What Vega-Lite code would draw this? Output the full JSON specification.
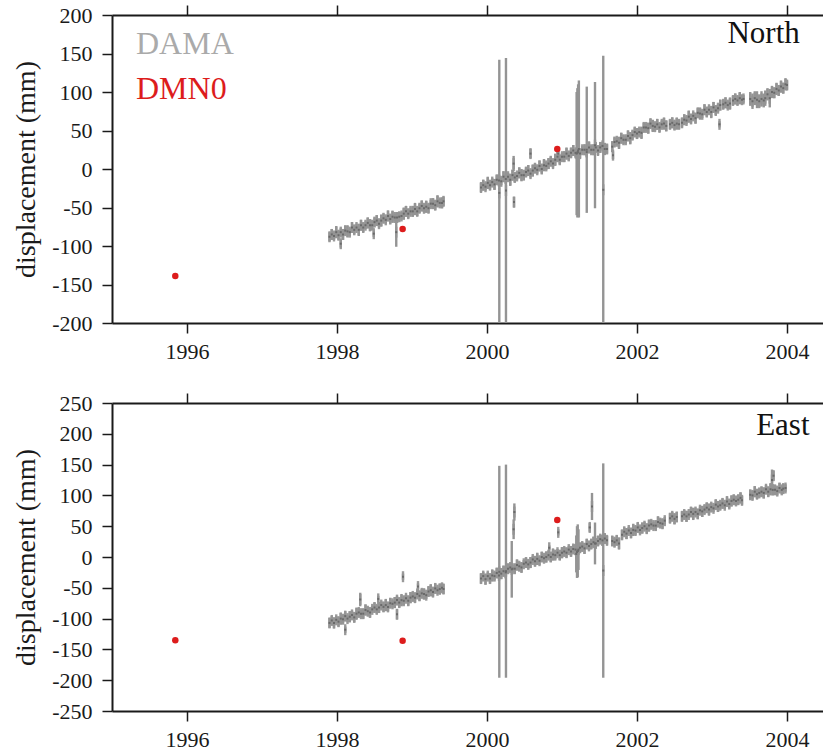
{
"$schema": "https://vega.github.io/schema/vega-lite/v6.json",
"background": "white",
"padding": {"left": 12, "top": 4, "right": 0, "bottom": 5},
"spacing": 30,
"config": {
  "view": {"stroke": null},
  "font": "Liberation Serif",
  "axis": {"labelFont": "Liberation Serif", "titleFont": "Liberation Serif", "labelFontSize": 22, "titleFontSize": 28, "titleFontWeight": "normal", "labelColor": "#1a1a1a", "titleColor": "#1a1a1a", "domainColor": "#1a1a1a", "tickColor": "#1a1a1a", "domainWidth": 2, "tickWidth": 1.5, "tickSize": 10, "grid": false}
},
"datasets": {
"dn": [
{"t":1997.90,"y":-88,"e":6},{"t":1997.93,"y":-85,"e":7},{"t":1997.96,"y":-87,"e":5},{"t":1997.99,"y":-82,"e":8},{"t":1998.02,"y":-86,"e":6},{"t":1998.05,"y":-82,"e":5},{"t":1998.08,"y":-85,"e":7},{"t":1998.11,"y":-80,"e":6},{"t":1998.14,"y":-81,"e":8},{"t":1998.17,"y":-82,"e":5},{"t":1998.20,"y":-76,"e":7},{"t":1998.23,"y":-79,"e":6},{"t":1998.26,"y":-76,"e":5},{"t":1998.29,"y":-79,"e":8},{"t":1998.32,"y":-73,"e":7},{"t":1998.35,"y":-76,"e":6},{"t":1998.38,"y":-73,"e":5},{"t":1998.41,"y":-70,"e":7},{"t":1998.44,"y":-73,"e":8},{"t":1998.47,"y":-73,"e":6},{"t":1998.50,"y":-69,"e":6},{"t":1998.53,"y":-67,"e":7},{"t":1998.56,"y":-71,"e":5},{"t":1998.59,"y":-67,"e":8},{"t":1998.62,"y":-64,"e":6},{"t":1998.65,"y":-66,"e":5},{"t":1998.68,"y":-61,"e":7},{"t":1998.71,"y":-65,"e":6},{"t":1998.74,"y":-62,"e":8},{"t":1998.77,"y":-63,"e":5},{"t":1998.80,"y":-63,"e":7},{"t":1998.83,"y":-62,"e":6},{"t":1998.86,"y":-61,"e":5},{"t":1998.89,"y":-58,"e":8},{"t":1998.92,"y":-55,"e":7},{"t":1998.95,"y":-58,"e":6},{"t":1998.98,"y":-55,"e":5},{"t":1999.01,"y":-55,"e":7},{"t":1999.04,"y":-52,"e":8},{"t":1999.07,"y":-55,"e":6},{"t":1999.10,"y":-51,"e":6},{"t":1999.13,"y":-48,"e":7},{"t":1999.16,"y":-51,"e":5},{"t":1999.19,"y":-49,"e":8},{"t":1999.22,"y":-51,"e":6},{"t":1999.25,"y":-45,"e":5},{"t":1999.28,"y":-45,"e":7},{"t":1999.31,"y":-47,"e":6},{"t":1999.34,"y":-42,"e":8},{"t":1999.37,"y":-44,"e":5},{"t":1999.40,"y":-44,"e":7},{"t":1999.42,"y":-42,"e":6},
{"t":1999.92,"y":-24,"e":6},{"t":1999.95,"y":-21,"e":7},{"t":1999.98,"y":-23,"e":5},{"t":2000.01,"y":-18,"e":8},{"t":2000.04,"y":-21,"e":6},{"t":2000.07,"y":-17,"e":5},{"t":2000.10,"y":-20,"e":7},{"t":2000.13,"y":-14,"e":6},{"t":2000.16,"y":-15,"e":8},{"t":2000.19,"y":-16,"e":5},{"t":2000.22,"y":-10,"e":7},{"t":2000.25,"y":-13,"e":6},{"t":2000.28,"y":-10,"e":5},{"t":2000.31,"y":-14,"e":8},{"t":2000.34,"y":-8,"e":7},{"t":2000.37,"y":-11,"e":6},{"t":2000.40,"y":-9,"e":5},{"t":2000.43,"y":-5,"e":7},{"t":2000.46,"y":-8,"e":8},{"t":2000.49,"y":-8,"e":6},{"t":2000.52,"y":-4,"e":6},{"t":2000.55,"y":-2,"e":7},{"t":2000.58,"y":-6,"e":5},{"t":2000.61,"y":-2,"e":8},{"t":2000.64,"y":1,"e":6},{"t":2000.67,"y":-1,"e":5},{"t":2000.70,"y":4,"e":7},{"t":2000.73,"y":0,"e":6},{"t":2000.76,"y":5,"e":8},{"t":2000.79,"y":4,"e":5},{"t":2000.82,"y":7,"e":7},{"t":2000.85,"y":10,"e":6},{"t":2000.88,"y":7,"e":5},{"t":2000.91,"y":12,"e":8},{"t":2000.94,"y":16,"e":7},{"t":2000.97,"y":12,"e":6},{"t":2001.00,"y":16,"e":5},{"t":2001.03,"y":16,"e":7},{"t":2001.06,"y":20,"e":8},{"t":2001.09,"y":17,"e":6},{"t":2001.12,"y":21,"e":6},{"t":2001.15,"y":24,"e":7},{"t":2001.18,"y":21,"e":5},{"t":2001.21,"y":22,"e":8},{"t":2001.24,"y":20,"e":6},{"t":2001.27,"y":25,"e":5},{"t":2001.30,"y":25,"e":7},{"t":2001.33,"y":22,"e":6},{"t":2001.36,"y":28,"e":8},{"t":2001.39,"y":25,"e":5},{"t":2001.42,"y":25,"e":7},{"t":2001.45,"y":28,"e":6},{"t":2001.48,"y":24,"e":6},{"t":2001.51,"y":28,"e":7},{"t":2001.54,"y":30,"e":5},{"t":2001.57,"y":26,"e":8},{"t":2001.60,"y":26,"e":6},
{"t":2001.67,"y":29,"e":7},{"t":2001.70,"y":35,"e":6},{"t":2001.73,"y":36,"e":5},{"t":2001.76,"y":34,"e":8},{"t":2001.79,"y":40,"e":7},{"t":2001.82,"y":38,"e":6},{"t":2001.85,"y":38,"e":5},{"t":2001.88,"y":43,"e":7},{"t":2001.91,"y":40,"e":8},{"t":2001.94,"y":44,"e":6},{"t":2001.97,"y":48,"e":6},{"t":2002.00,"y":46,"e":7},{"t":2002.03,"y":48,"e":5},{"t":2002.06,"y":47,"e":8},{"t":2002.09,"y":54,"e":6},{"t":2002.12,"y":54,"e":5},{"t":2002.15,"y":53,"e":7},{"t":2002.18,"y":59,"e":6},{"t":2002.21,"y":56,"e":8},{"t":2002.24,"y":55,"e":5},{"t":2002.27,"y":58,"e":7},{"t":2002.30,"y":54,"e":6},{"t":2002.33,"y":58,"e":5},{"t":2002.36,"y":59,"e":8},{"t":2002.39,"y":56,"e":7},
{"t":2002.44,"y":58,"e":6},{"t":2002.47,"y":60,"e":7},{"t":2002.50,"y":57,"e":6},{"t":2002.53,"y":59,"e":8},{"t":2002.56,"y":58,"e":6},
{"t":2002.60,"y":60,"e":6},{"t":2002.63,"y":64,"e":7},{"t":2002.66,"y":63,"e":5},{"t":2002.69,"y":68,"e":8},{"t":2002.72,"y":65,"e":6},{"t":2002.75,"y":69,"e":5},{"t":2002.78,"y":66,"e":7},{"t":2002.81,"y":73,"e":6},{"t":2002.84,"y":72,"e":8},{"t":2002.87,"y":71,"e":5},{"t":2002.90,"y":77,"e":7},{"t":2002.93,"y":74,"e":6},{"t":2002.96,"y":77,"e":5},{"t":2002.99,"y":74,"e":8},{"t":2003.02,"y":80,"e":7},{"t":2003.05,"y":76,"e":6},{"t":2003.08,"y":79,"e":5},{"t":2003.11,"y":83,"e":7},
{"t":2003.15,"y":84,"e":6},{"t":2003.18,"y":86,"e":7},{"t":2003.21,"y":83,"e":5},{"t":2003.24,"y":85,"e":8},
{"t":2003.28,"y":89,"e":6},{"t":2003.31,"y":91,"e":7},{"t":2003.34,"y":89,"e":6},{"t":2003.37,"y":92,"e":8},{"t":2003.40,"y":90,"e":6},{"t":2003.42,"y":91,"e":5},
{"t":2003.51,"y":91,"e":9},{"t":2003.54,"y":88,"e":10},{"t":2003.57,"y":92,"e":9},{"t":2003.60,"y":90,"e":11},{"t":2003.63,"y":88,"e":9},{"t":2003.66,"y":91,"e":10},{"t":2003.69,"y":89,"e":9},{"t":2003.71,"y":92,"e":10},
{"t":2003.74,"y":97,"e":8},{"t":2003.77,"y":92,"e":12},{"t":2003.80,"y":100,"e":8},{"t":2003.83,"y":99,"e":7},{"t":2003.86,"y":104,"e":8},{"t":2003.89,"y":102,"e":7},{"t":2003.92,"y":107,"e":8},{"t":2003.95,"y":105,"e":7},{"t":2003.98,"y":110,"e":8},{"t":2004.00,"y":109,"e":6},
{"t":2000.164,"y":-31,"e":173},{"t":2000.253,"y":-28,"e":172},{"t":2001.195,"y":20,"e":80},{"t":2001.205,"y":21,"e":84},{"t":2001.215,"y":24,"e":86},{"t":2001.225,"y":26,"e":89},{"t":2001.33,"y":25,"e":82},{"t":2001.44,"y":31,"e":82},{"t":2001.55,"y":-27,"e":174},
{"t":1998.05,"y":-97,"e":5},{"t":1998.49,"y":-84,"e":4},{"t":1998.79,"y":-82,"e":19},{"t":2000.36,"y":-43,"e":7},{"t":2000.355,"y":7,"e":10},{"t":2000.58,"y":20,"e":6},{"t":2000.95,"y":20,"e":5},{"t":2003.10,"y":58,"e":4},{"t":2001.68,"y":18,"e":5}
],
"de": [
{"t":1997.90,"y":-107,"e":8},{"t":1997.93,"y":-103,"e":7},{"t":1997.96,"y":-107,"e":9},{"t":1997.99,"y":-102,"e":6},{"t":1998.02,"y":-105,"e":8},{"t":1998.05,"y":-100,"e":10},{"t":1998.08,"y":-101,"e":7},{"t":1998.11,"y":-96,"e":8},{"t":1998.14,"y":-100,"e":6},{"t":1998.17,"y":-97,"e":9},{"t":1998.20,"y":-94,"e":7},{"t":1998.23,"y":-98,"e":8},{"t":1998.26,"y":-92,"e":10},{"t":1998.29,"y":-90,"e":7},{"t":1998.32,"y":-92,"e":6},{"t":1998.35,"y":-92,"e":8},{"t":1998.38,"y":-86,"e":9},{"t":1998.41,"y":-88,"e":7},{"t":1998.44,"y":-90,"e":8},{"t":1998.47,"y":-85,"e":6},{"t":1998.50,"y":-82,"e":8},{"t":1998.53,"y":-85,"e":7},{"t":1998.56,"y":-82,"e":9},{"t":1998.59,"y":-78,"e":6},{"t":1998.62,"y":-81,"e":8},{"t":1998.65,"y":-78,"e":10},{"t":1998.68,"y":-81,"e":7},{"t":1998.71,"y":-75,"e":8},{"t":1998.74,"y":-76,"e":6},{"t":1998.77,"y":-74,"e":9},{"t":1998.80,"y":-70,"e":7},{"t":1998.83,"y":-74,"e":8},{"t":1998.86,"y":-70,"e":10},{"t":1998.89,"y":-71,"e":7},{"t":1998.92,"y":-67,"e":6},{"t":1998.95,"y":-71,"e":8},{"t":1998.98,"y":-66,"e":9},{"t":1999.01,"y":-64,"e":7},{"t":1999.04,"y":-66,"e":8},{"t":1999.07,"y":-60,"e":6},{"t":1999.10,"y":-63,"e":8},{"t":1999.13,"y":-59,"e":7},{"t":1999.16,"y":-60,"e":9},{"t":1999.19,"y":-62,"e":6},{"t":1999.22,"y":-56,"e":8},{"t":1999.25,"y":-54,"e":10},{"t":1999.28,"y":-57,"e":7},{"t":1999.31,"y":-51,"e":8},{"t":1999.34,"y":-54,"e":6},{"t":1999.37,"y":-52,"e":9},{"t":1999.40,"y":-50,"e":7},{"t":1999.42,"y":-52,"e":8},
{"t":1999.92,"y":-35,"e":8},{"t":1999.95,"y":-31,"e":7},{"t":1999.98,"y":-36,"e":9},{"t":2000.01,"y":-31,"e":6},{"t":2000.04,"y":-35,"e":8},{"t":2000.07,"y":-30,"e":10},{"t":2000.10,"y":-31,"e":7},{"t":2000.13,"y":-26,"e":8},{"t":2000.16,"y":-30,"e":6},{"t":2000.19,"y":-27,"e":9},{"t":2000.22,"y":-23,"e":9},{"t":2000.25,"y":-25,"e":10},{"t":2000.28,"y":-19,"e":8},{"t":2000.31,"y":-17,"e":7},{"t":2000.34,"y":-19,"e":6},{"t":2000.37,"y":-19,"e":8},{"t":2000.40,"y":-13,"e":9},{"t":2000.43,"y":-15,"e":7},{"t":2000.46,"y":-17,"e":8},{"t":2000.49,"y":-11,"e":6},{"t":2000.52,"y":-9,"e":8},{"t":2000.55,"y":-12,"e":7},{"t":2000.58,"y":-9,"e":9},{"t":2000.61,"y":-4,"e":6},{"t":2000.64,"y":-7,"e":8},{"t":2000.67,"y":-3,"e":10},{"t":2000.70,"y":-6,"e":7},{"t":2000.73,"y":0,"e":8},{"t":2000.76,"y":-2,"e":6},{"t":2000.79,"y":0,"e":9},{"t":2000.82,"y":3,"e":7},{"t":2000.85,"y":0,"e":8},{"t":2000.88,"y":4,"e":10},{"t":2000.91,"y":3,"e":7},{"t":2000.94,"y":7,"e":6},{"t":2000.97,"y":3,"e":8},{"t":2001.00,"y":7,"e":9},{"t":2001.03,"y":9,"e":7},{"t":2001.06,"y":7,"e":8},{"t":2001.09,"y":12,"e":6},{"t":2001.12,"y":9,"e":8},{"t":2001.15,"y":13,"e":7},{"t":2001.18,"y":12,"e":9},{"t":2001.21,"y":10,"e":10},{"t":2001.24,"y":15,"e":8},{"t":2001.27,"y":17,"e":7},{"t":2001.30,"y":14,"e":9},{"t":2001.33,"y":21,"e":8},{"t":2001.36,"y":18,"e":7},{"t":2001.39,"y":21,"e":8},{"t":2001.42,"y":24,"e":9},{"t":2001.45,"y":22,"e":7},{"t":2001.48,"y":26,"e":8},{"t":2001.51,"y":29,"e":7},{"t":2001.54,"y":27,"e":9},{"t":2001.57,"y":30,"e":8},{"t":2001.60,"y":27,"e":7},
{"t":2001.67,"y":26,"e":8},{"t":2001.70,"y":24,"e":7},{"t":2001.73,"y":27,"e":8},{"t":2001.76,"y":22,"e":10},
{"t":2001.80,"y":36,"e":8},{"t":2001.83,"y":41,"e":7},{"t":2001.86,"y":38,"e":9},{"t":2001.89,"y":43,"e":6},{"t":2001.92,"y":39,"e":8},{"t":2001.95,"y":44,"e":10},{"t":2001.98,"y":43,"e":7},{"t":2002.01,"y":48,"e":8},{"t":2002.04,"y":44,"e":6},{"t":2002.07,"y":47,"e":9},{"t":2002.10,"y":50,"e":7},{"t":2002.13,"y":46,"e":8},{"t":2002.16,"y":51,"e":10},{"t":2002.19,"y":53,"e":7},{"t":2002.22,"y":51,"e":6},{"t":2002.25,"y":51,"e":8},{"t":2002.28,"y":57,"e":9},{"t":2002.31,"y":55,"e":7},{"t":2002.34,"y":54,"e":8},{"t":2002.37,"y":59,"e":6},
{"t":2002.44,"y":63,"e":8},{"t":2002.47,"y":66,"e":7},{"t":2002.50,"y":62,"e":9},{"t":2002.53,"y":65,"e":8},
{"t":2002.60,"y":66,"e":8},{"t":2002.63,"y":69,"e":7},{"t":2002.66,"y":66,"e":9},{"t":2002.69,"y":69,"e":6},{"t":2002.72,"y":73,"e":8},{"t":2002.75,"y":70,"e":10},{"t":2002.78,"y":73,"e":7},{"t":2002.81,"y":70,"e":8},{"t":2002.84,"y":76,"e":6},{"t":2002.87,"y":74,"e":9},{"t":2002.90,"y":77,"e":7},{"t":2002.93,"y":80,"e":8},{"t":2002.96,"y":77,"e":10},{"t":2002.99,"y":81,"e":7},{"t":2003.02,"y":79,"e":6},{"t":2003.05,"y":85,"e":8},{"t":2003.08,"y":82,"e":9},{"t":2003.11,"y":84,"e":7},{"t":2003.14,"y":87,"e":8},{"t":2003.17,"y":84,"e":6},{"t":2003.20,"y":90,"e":8},{"t":2003.23,"y":86,"e":7},{"t":2003.26,"y":91,"e":9},{"t":2003.29,"y":93,"e":8},{"t":2003.32,"y":91,"e":7},{"t":2003.35,"y":93,"e":8},{"t":2003.38,"y":96,"e":9},{"t":2003.40,"y":92,"e":7},
{"t":2003.51,"y":101,"e":8},{"t":2003.54,"y":100,"e":7},{"t":2003.57,"y":106,"e":9},{"t":2003.60,"y":102,"e":8},{"t":2003.63,"y":104,"e":7},{"t":2003.66,"y":106,"e":8},{"t":2003.69,"y":104,"e":9},{"t":2003.72,"y":110,"e":7},{"t":2003.75,"y":106,"e":8},{"t":2003.78,"y":110,"e":10},{"t":2003.81,"y":109,"e":9},{"t":2003.84,"y":109,"e":8},{"t":2003.87,"y":107,"e":7},{"t":2003.90,"y":112,"e":8},{"t":2003.93,"y":109,"e":7},{"t":2003.95,"y":111,"e":8},{"t":2003.98,"y":112,"e":6},
{"t":2000.164,"y":-24,"e":172},{"t":2000.253,"y":-23,"e":173},{"t":2001.55,"y":-22,"e":174},{"t":2000.365,"y":73,"e":14},{"t":2000.355,"y":45,"e":16},{"t":2000.33,"y":-20,"e":46},{"t":2001.19,"y":5,"e":30},{"t":2001.20,"y":8,"e":42},{"t":2001.21,"y":10,"e":43},{"t":2001.22,"y":12,"e":33},{"t":2001.40,"y":82,"e":22},{"t":2001.44,"y":22,"e":34},{"t":2001.37,"y":48,"e":7},{"t":2000.95,"y":40,"e":5},{"t":2000.83,"y":15,"e":4},{"t":1998.31,"y":-69,"e":11},{"t":1998.11,"y":-118,"e":5},{"t":1998.55,"y":-68,"e":5},{"t":1998.88,"y":-32,"e":5},{"t":1999.08,"y":-48,"e":5},{"t":1998.80,"y":-93,"e":8},{"t":2003.80,"y":125,"e":17},{"t":2003.82,"y":132,"e":8}
],
"rn": [{"t":1995.844,"y":-139},{"t":1998.875,"y":-78},{"t":2000.937,"y":26}],
"re": [{"t":1995.844,"y":-135},{"t":1998.875,"y":-136},{"t":2000.937,"y":60}],
"one": [{"k":1}]
},
"vconcat": [
{
  "width": 711, "height": 308,
  "resolve": {"axis": {"x": "independent", "y": "independent"}},
  "layer": [
    {"data": {"name": "dn"}, "mark": {"type": "tick", "orient": "vertical", "size": 11, "thickness": 2.4, "color": "#9a9a9a", "opacity": 1},
     "encoding": {
       "x": {"field": "t", "type": "quantitative", "scale": {"domain": [1995, 2004.48], "nice": false, "zero": false}, "axis": null},
       "y": {"field": "y", "type": "quantitative", "scale": {"domain": [-200, 200], "nice": false, "zero": false, "clamp": true}, "axis": null}}},
    {"data": {"name": "dn"}, "mark": {"type": "errorbar", "color": "#949494", "thickness": 2.4},
     "encoding": {
       "x": {"field": "t", "type": "quantitative", "axis": {"orient": "top", "values": [1996, 1998, 2000, 2002, 2004], "labels": false, "title": null}},
       "y": {"field": "y", "type": "quantitative", "axis": null},
       "yError": {"field": "e"}}},
    {"data": {"name": "dn"}, "mark": {"type": "point", "shape": "square", "filled": true, "size": 4, "color": "#6a6a6a", "opacity": 1},
     "encoding": {
       "x": {"field": "t", "type": "quantitative", "axis": {"orient": "bottom", "values": [1996, 1998, 2000, 2002, 2004], "format": "d", "title": null, "labelPadding": 8, "labelFont": "Liberation Serif", "labelFontSize": 22}},
       "y": {"field": "y", "type": "quantitative", "axis": {"orient": "left", "values": [-200, -150, -100, -50, 0, 50, 100, 150, 200], "labelExpr": "'' + datum.value", "title": "displacement (mm)", "labelPadding": 10, "titlePadding": 11, "labelFont": "Liberation Serif", "titleFont": "Liberation Serif", "labelFontSize": 22, "titleFontSize": 28, "titleFontWeight": "normal"}}}},
    {"data": {"name": "rn"}, "mark": {"type": "circle", "size": 42, "color": "#dd1c1c", "opacity": 1},
     "encoding": {
       "x": {"field": "t", "type": "quantitative", "axis": null},
       "y": {"field": "y", "type": "quantitative", "axis": null}}},
    {"data": {"name": "one"}, "mark": {"type": "text", "text": "DAMA", "font": "Liberation Serif", "fontSize": 32, "color": "#aaaaaa", "align": "left", "baseline": "alphabetic"},
     "encoding": {"x": {"datum": 1995.32, "type": "quantitative", "axis": null}, "y": {"datum": 150, "type": "quantitative", "axis": null}}},
    {"data": {"name": "one"}, "mark": {"type": "text", "text": "DMN0", "font": "Liberation Serif", "fontSize": 32, "color": "#dd1c1c", "align": "left", "baseline": "alphabetic"},
     "encoding": {"x": {"datum": 1995.32, "type": "quantitative", "axis": null}, "y": {"datum": 91, "type": "quantitative", "axis": null}}},
    {"data": {"name": "one"}, "mark": {"type": "text", "text": "North", "font": "Liberation Serif", "fontSize": 31, "color": "#111111", "align": "right", "baseline": "alphabetic"},
     "encoding": {"x": {"datum": 2004.17, "type": "quantitative", "axis": null}, "y": {"datum": 163, "type": "quantitative", "axis": null}}}
  ]
},
{
  "width": 711, "height": 308,
  "resolve": {"axis": {"x": "independent", "y": "independent"}},
  "layer": [
    {"data": {"name": "de"}, "mark": {"type": "tick", "orient": "vertical", "size": 11, "thickness": 2.4, "color": "#9a9a9a", "opacity": 1},
     "encoding": {
       "x": {"field": "t", "type": "quantitative", "scale": {"domain": [1995, 2004.48], "nice": false, "zero": false}, "axis": null},
       "y": {"field": "y", "type": "quantitative", "scale": {"domain": [-250, 250], "nice": false, "zero": false, "clamp": true}, "axis": null}}},
    {"data": {"name": "de"}, "mark": {"type": "errorbar", "color": "#949494", "thickness": 2.4},
     "encoding": {
       "x": {"field": "t", "type": "quantitative", "axis": {"orient": "top", "values": [1996, 1998, 2000, 2002, 2004], "labels": false, "title": null}},
       "y": {"field": "y", "type": "quantitative", "axis": null},
       "yError": {"field": "e"}}},
    {"data": {"name": "de"}, "mark": {"type": "point", "shape": "square", "filled": true, "size": 4, "color": "#6a6a6a", "opacity": 1},
     "encoding": {
       "x": {"field": "t", "type": "quantitative", "axis": {"orient": "bottom", "values": [1996, 1998, 2000, 2002, 2004], "format": "d", "title": null, "labelPadding": 8, "labelFont": "Liberation Serif", "labelFontSize": 22}},
       "y": {"field": "y", "type": "quantitative", "axis": {"orient": "left", "values": [-250, -200, -150, -100, -50, 0, 50, 100, 150, 200, 250], "labelExpr": "'' + datum.value", "title": "displacement (mm)", "labelPadding": 10, "titlePadding": 11, "labelFont": "Liberation Serif", "titleFont": "Liberation Serif", "labelFontSize": 22, "titleFontSize": 28, "titleFontWeight": "normal"}}}},
    {"data": {"name": "re"}, "mark": {"type": "circle", "size": 42, "color": "#dd1c1c", "opacity": 1},
     "encoding": {
       "x": {"field": "t", "type": "quantitative", "axis": null},
       "y": {"field": "y", "type": "quantitative", "axis": null}}},
    {"data": {"name": "one"}, "mark": {"type": "text", "text": "East", "font": "Liberation Serif", "fontSize": 31, "color": "#111111", "align": "right", "baseline": "alphabetic"},
     "encoding": {"x": {"datum": 2004.30, "type": "quantitative", "axis": null}, "y": {"datum": 197.5, "type": "quantitative", "axis": null}}}
  ]
}
]
}
